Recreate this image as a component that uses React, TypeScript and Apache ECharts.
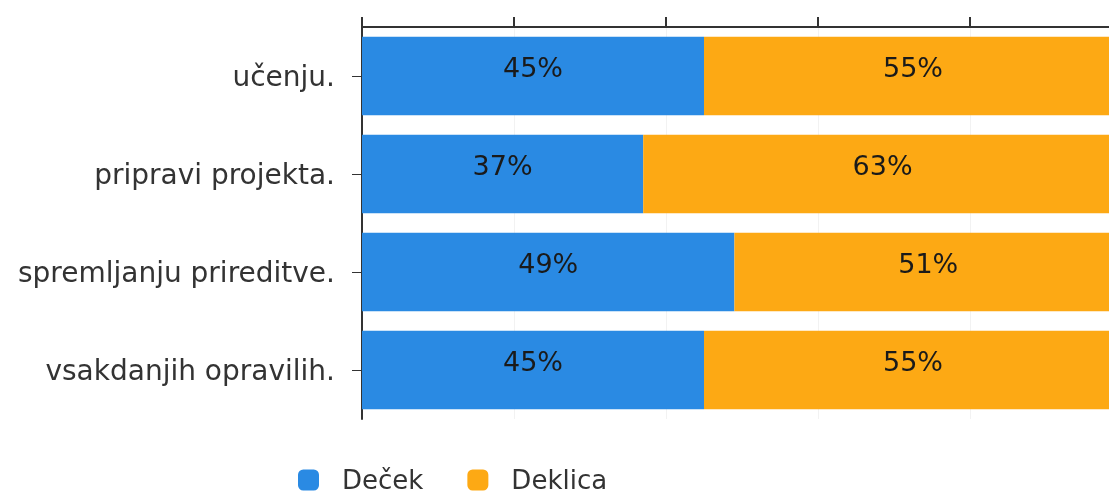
import React, { useEffect, useRef } from "react";
import * as echarts from "echarts";

const categories = ["učenju.", "pripravi projekta.", "spremljanju prireditve.", "vsakdanjih opravilih."];
const decek = [45, 37, 49, 45];
const deklica = [55, 63, 51, 55];
const seriesNames = ["Deček", "Deklica"];

export default function App() {
  const ref = useRef<HTMLDivElement>(null);
  useEffect(() => {
    if (!ref.current) return;
    const chart = echarts.init(ref.current, null, { renderer: "svg" });
    const font = "DejaVu Sans, Verdana, sans-serif";
    const labelStyle = {
      show: true,
      position: "inside",
      formatter: "{c}%",
      fontSize: 27,
      color: "#1a1a1a",
      offset: [0, -9],
      fontFamily: font,
    };
    chart.setOption({
      animation: false,
      textStyle: { fontFamily: font },
      legend: {
        top: 462,
        left: 293,
        itemWidth: 21,
        itemHeight: 21,
        itemGap: 44,
        icon: "roundRect",
        textStyle: { fontSize: 26, color: "#333", fontFamily: font, padding: [0, 0, 0, 18] },
        data: seriesNames,
      },
      grid: { left: 362, width: 760, top: 27, bottom: 75, containLabel: false, outerBoundsMode: "none" },
      xAxis: {
        type: "value",
        position: "top",
        min: 0,
        max: 100,
        interval: 20,
        axisLine: { show: true, lineStyle: { color: "#333", width: 2 } },
        axisTick: { show: true, length: 10, lineStyle: { color: "#333", width: 2 } },
        axisLabel: { show: false },
        splitLine: { show: true, lineStyle: { color: "#f2f2f2" } },
      },
      yAxis: {
        type: "category",
        inverse: true,
        data: categories,
        axisLine: { show: true, lineStyle: { color: "#333", width: 2 } },
        axisTick: { show: true, alignWithLabel: true, length: 10, lineStyle: { color: "#333" } },
        axisLabel: { fontSize: 28, color: "#333", margin: 27, fontFamily: font, padding: [0, 0, 6, 0] },
      },
      series: [
        {
          name: seriesNames[0],
          type: "bar",
          stack: "total",
          data: decek,
          barCategoryGap: "20%",
          itemStyle: { color: "#2a8ae3" },
          label: labelStyle,
        },
        {
          name: seriesNames[1],
          type: "bar",
          stack: "total",
          data: deklica,
          barCategoryGap: "20%",
          itemStyle: { color: "#fda914" },
          label: labelStyle,
        },
      ],
    });
    return () => chart.dispose();
  }, []);
  return (
    <div
      ref={ref}
      style={{ position: "fixed", left: 0, top: 0, width: 1109, height: 494 }}
    />
  );
}
